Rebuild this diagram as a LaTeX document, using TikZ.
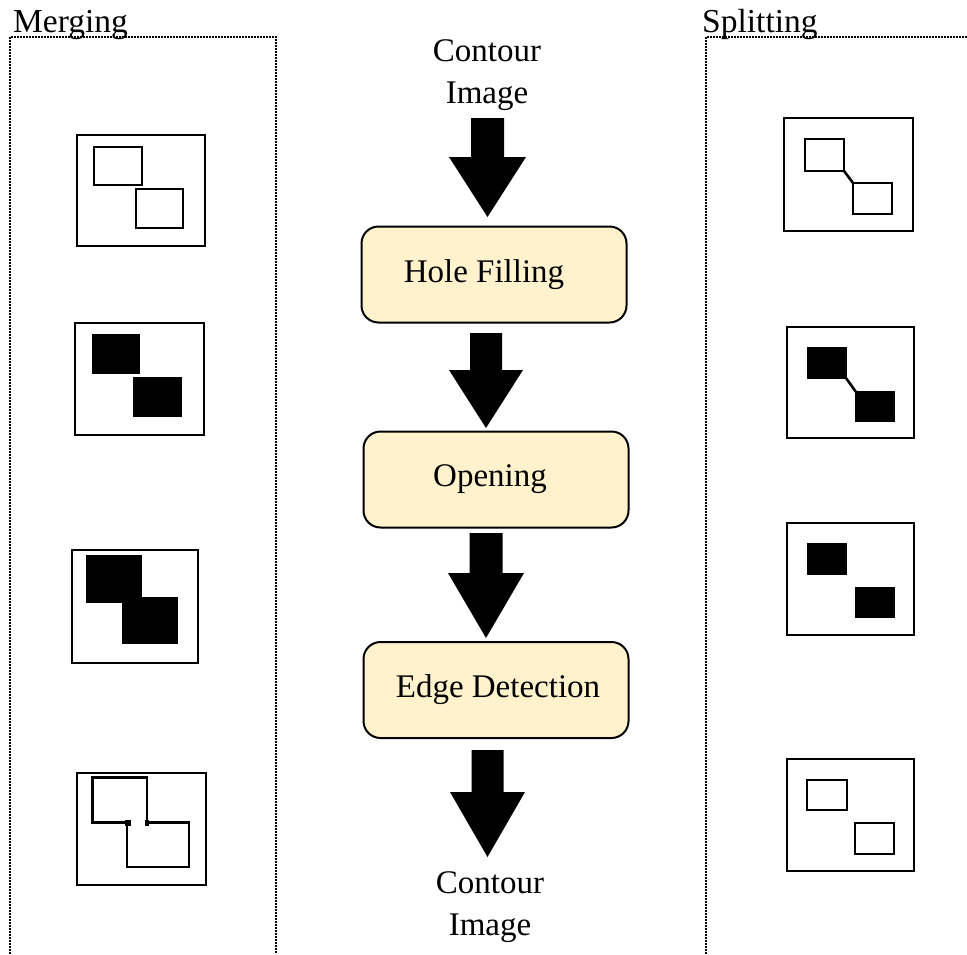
\documentclass[tikz,border=0pt]{standalone}
\usepackage{fontspec}
\setmainfont{Liberation Serif}
\begin{document}
\begin{tikzpicture}[x=1pt,y=-1pt,
  frame/.style={draw=black,dash pattern=on 1.8pt off 1.2pt,line width=2pt},
  label/.style={font=\fontsize{33.5}{42}\selectfont,inner sep=0pt},
  stepbox/.style={draw=black,line width=2pt,rounded corners=17pt,fill=boxfill,
    minimum width=265pt,minimum height=96pt,inner sep=0pt,
    font=\fontsize{33}{42}\selectfont},
  io/.style={align=center,inner sep=0pt,font=\fontsize{33}{42}\selectfont},
  panel/.style={draw=black,line width=1.5pt},
  blob/.style={draw=black,line width=1.6pt},
  solid blob/.style={fill=black}]
\definecolor{boxfill}{HTML}{FFF2CC}
\useasboundingbox (0,0) rectangle (967,954);

% group frames
\draw[frame] (10,954) -- (10,37) -- (276,37) -- (276,954);
\draw[frame] (706,954) -- (706,37) -- (967,37);
\node[label,anchor=base west] (mergelabel) at (13,32) {Merging};
\node[label,anchor=base west] (splitlabel) at (702,32) {Splitting};

% pipeline
\node[io] (input) at (487,75) {Contour\\Image};
\node[stepbox] (fill) at (494,274.5) {\hspace*{-20pt}Hole Filling};
\node[stepbox] (open) at (496,479.5) {\hspace*{-12pt}Opening};
\node[stepbox] (edge) at (496,690) {\hspace*{4pt}Edge Detection};
\node[io] (output) at (490,907) {Contour\\Image};

% block arrows: centre x, shaft top, head base, tip, half shaft, half head
\newcommand\blockdown[6]{%
  \fill (#1-#5,#2) -- (#1+#5,#2) -- (#1+#5,#3) -- (#1+#6,#3) -- (#1,#4)
    -- (#1-#6,#3) -- (#1-#5,#3) -- cycle;}
\blockdown{487.5}{118}{157}{217}{16.5}{38.5}
\blockdown{486}{333}{370}{428}{16}{37}
\blockdown{486}{533}{573}{638}{16.5}{38}
\blockdown{487.5}{750}{792}{857}{16}{37.5}

% merging panels
\draw[panel] (77,135) rectangle (205,246);
\draw[blob] (94,147) rectangle (142,185);
\draw[blob] (136,189) rectangle (183,228);

\draw[panel] (75,323) rectangle (204,435);
\fill[solid blob] (92,334) rectangle (140,374);
\fill[solid blob] (133,377) rectangle (182,417);

\draw[panel] (72,550) rectangle (198,663);
\fill[solid blob] (86,555) rectangle (142,603);
\fill[solid blob] (122,597) rectangle (178,644);

\draw[panel] (77,773) rectangle (206,885);
\draw[line width=2.8pt,line join=miter]
  (127,822.5) -- (92.5,822.5) -- (92.5,777.5) -- (147,777.5) -- (147,822.5)
  -- (189,822.5) -- (189,867) -- (127,867) -- cycle;
\fill (125,819.5) rectangle (130.5,825.5);
\fill (144.5,819.5) rectangle (148.5,825.5);

% splitting panels
\draw[panel] (784,118) rectangle (913,231);
\draw[blob,line width=1.4pt] (805,139) rectangle (844,171);
\draw[blob,line width=1.4pt] (853,183) rectangle (892,214);
\draw[line width=2.6pt] (844,171) -- (853,183);

\draw[panel] (787,327) rectangle (914,438);
\fill[solid blob] (807,347) rectangle (847,379);
\fill[solid blob] (855,391) rectangle (895,422);
\draw[line width=2.6pt] (846,378) -- (856,392);

\draw[panel] (787,523) rectangle (914,635);
\fill[solid blob] (807,543) rectangle (847,575);
\fill[solid blob] (855,587) rectangle (895,618);

\draw[panel] (787,759) rectangle (914,871);
\draw[blob,line width=1.4pt] (807,780) rectangle (847,810);
\draw[blob,line width=1.4pt] (855,823) rectangle (894,854);
\end{tikzpicture}
\end{document}
